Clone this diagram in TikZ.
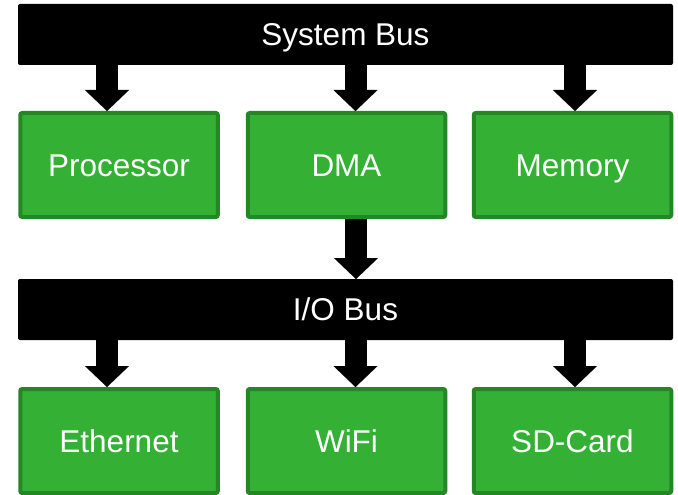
\documentclass[tikz,border=0pt]{standalone}
\usepackage{fontspec}
\setmainfont{Liberation Sans}
\usetikzlibrary{arrows.meta}
\definecolor{boxfill}{RGB}{52,176,52}
\definecolor{boxline}{RGB}{35,135,35}
\begin{document}
\begin{tikzpicture}[x=1pt,y=-1pt,
  lbl/.style={text=white,font=\fontsize{31.5}{37}\selectfont,text height=22.6pt,text depth=0pt},
  busbar/.style={lbl,fill=black,rounded corners=2pt,minimum width=655pt,minimum height=61pt,inner sep=0pt,outer sep=0pt},
  unit/.style={lbl,fill=boxfill,draw=boxline,line width=4pt,rounded corners=2pt,minimum width=197.5pt,minimum height=104pt,inner sep=0pt},
  blk/.style={line width=22pt,-{Triangle[length=21pt,width=44pt,line width=0.01pt]}}]
\useasboundingbox (0,0) rectangle (678,495);
\node[busbar] (sb) at (345.5,34.5) {System Bus};
\node[unit] (proc) at (119,165) {Processor};
\node[unit] (dma) at (346.5,165) {DMA};
\node[unit] (mem) at (572.5,165) {Memory};
\node[busbar] (io) at (345.5,309.5) {I/O Bus};
\node[unit] (eth) at (119,441) {Ethernet};
\node[unit] (wifi) at (346.5,441) {WiFi};
\node[unit] (sd) at (572.5,441) {SD-Card};
\draw[blk] ([xshift=-12pt]proc.north |- sb.south) -- ([xshift=-12pt]proc.north);
\draw[blk] ([xshift=9pt]dma.north |- sb.south) -- ([xshift=9pt]dma.north);
\draw[blk] ([xshift=2.5pt]mem.north |- sb.south) -- ([xshift=2.5pt]mem.north);
\draw[blk] ([xshift=9.5pt]dma.south) -- ([xshift=9.5pt]dma.south |- io.north);
\draw[blk] ([xshift=-12pt]eth.north |- io.south) -- ([xshift=-12pt]eth.north);
\draw[blk] ([xshift=9pt]wifi.north |- io.south) -- ([xshift=9pt]wifi.north);
\draw[blk] ([xshift=2.5pt]sd.north |- io.south) -- ([xshift=2.5pt]sd.north);
\end{tikzpicture}
\end{document}
